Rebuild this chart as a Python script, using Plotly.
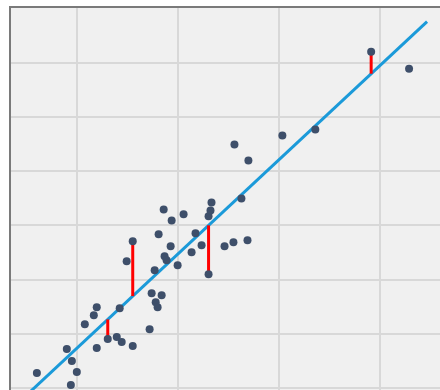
import plotly.graph_objects as go

# Observations
x_vals = [6.05, 9.41, 10.0, 9.51, 9.01, 10.79, 11.68, 11.97, 11.97, 13.06,
          13.95, 14.24, 14.44, 15.53, 15.53, 14.93, 17.20, 17.40, 17.80, 17.99,
          18.39, 17.70, 18.09, 18.59, 18.68, 18.88, 19.28, 19.38, 19.97, 20.56,
          21.35, 21.74, 22.34, 23.03, 23.03, 23.22, 23.32, 24.61, 25.49, 26.28,
          26.88, 25.59, 26.97, 30.33, 33.59, 39.11, 42.86]
y_vals = [2.76, 0.55, 2.94, 4.97, 7.18, 11.78, 13.44, 14.91, 7.36, 9.02,
          9.39, 14.72, 8.47, 7.73, 27.06, 23.38, 10.86, 17.49, 15.83, 14.91,
          17.12, 21.72, 28.35, 32.95, 24.30, 23.56, 26.14, 30.92, 22.64, 32.03,
          25.03, 28.53, 26.32, 20.98, 31.66, 32.76, 34.24, 26.14, 26.87, 34.97,
          27.24, 44.91, 41.97, 46.57, 47.67, 62.03, 58.90]

# Fitted line parameters and the x extent it is drawn over
fit_slope = 1.740
fit_intercept = -10.07
fit_x = [3.5, 44.64]

# Indices of points whose residuals are highlighted
highlight = [9, 14, 33, 45]

x_range = [3.49, 45.92]
y_range = [-0.37, 70.1]

fit_y = [fit_intercept + fit_slope * v for v in fit_x]

fig = go.Figure()

fig.add_trace(go.Scatter(
    x=fit_x, y=fit_y, mode="lines",
    line=dict(color="#1b9ad9", width=3),
    hoverinfo="skip", showlegend=False,
))

res_x, res_y = [], []
for i in highlight:
    xi, yi = x_vals[i], y_vals[i]
    res_x += [xi, xi, None]
    res_y += [yi, fit_intercept + fit_slope * xi, None]

fig.add_trace(go.Scatter(
    x=res_x, y=res_y, mode="lines",
    line=dict(color="#ff0000", width=3),
    hoverinfo="skip", showlegend=False,
))

fig.add_trace(go.Scatter(
    x=x_vals, y=y_vals, mode="markers",
    marker=dict(color="#3e4f6a", size=8),
    showlegend=False,
))

fig.update_layout(
    width=440, height=390,
    margin=dict(l=11, r=0, t=8, b=0),
    paper_bgcolor="#ffffff",
    plot_bgcolor="#f0f0f0",
    xaxis=dict(
        range=x_range, dtick=10, tick0=0,
        showgrid=True, gridcolor="#d8d8d8", gridwidth=2,
        zeroline=False, showticklabels=False, ticks="",
        showline=True, linecolor="#7a7a7a", linewidth=2, side="top",
    ),
    yaxis=dict(
        range=y_range, dtick=10, tick0=0,
        showgrid=True, gridcolor="#d8d8d8", gridwidth=2,
        zeroline=False, showticklabels=False, ticks="",
        showline=True, linecolor="#7a7a7a", linewidth=2,
    ),
)

fig.write_html("out.html")
